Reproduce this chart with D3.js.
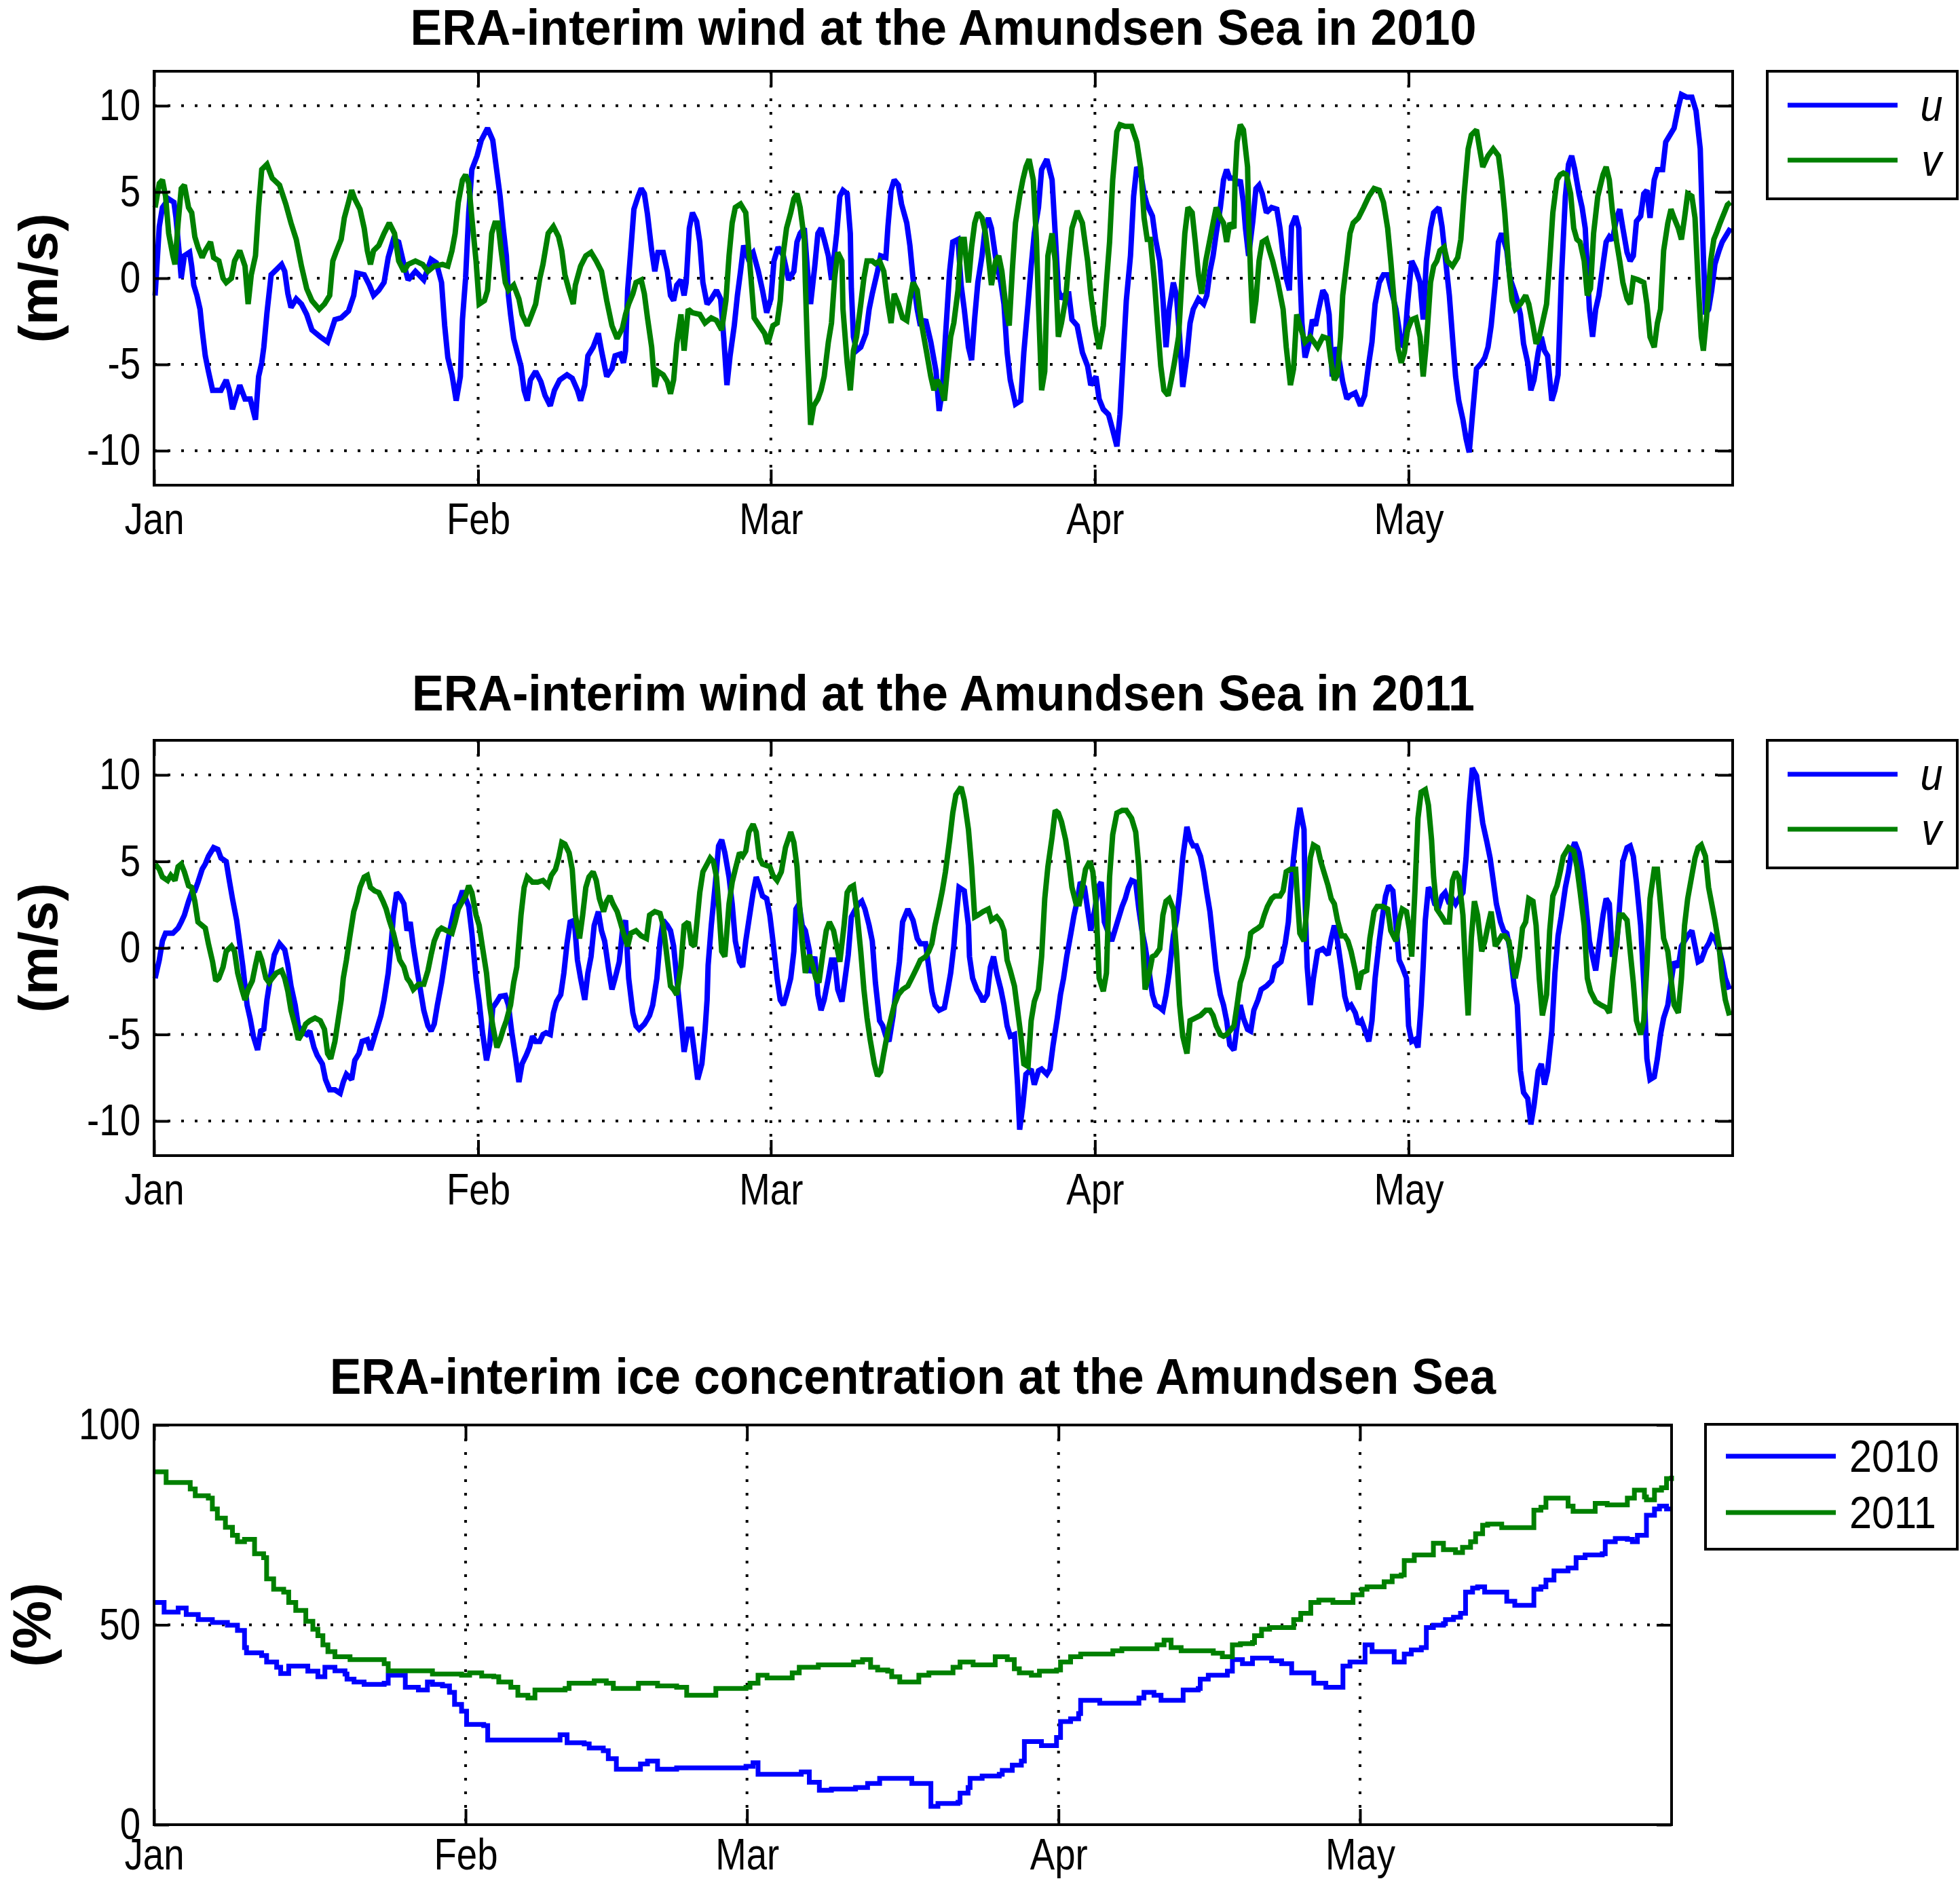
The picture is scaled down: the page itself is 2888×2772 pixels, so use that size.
<!DOCTYPE html>
<html>
<head>
<meta charset="utf-8">
<script src="https://cdn.jsdelivr.net/npm/d3@7"></script>
<style>
body { margin: 0; background: #fff; }
</style>
</head>
<body>
<div id="canvas"></div>
<script>
// month ticks (day of year, 0 = Jan 1) and their labels
const monthDays = [0, 31, 59, 90, 120];
const monthLabels = ["Jan", "Feb", "Mar", "Apr", "May"];
const windTicks = [-10, -5, 0, 5, 10];
const iceTicks = [0, 50, 100];
const windNames = ["u", "v"];
const iceNames = ["2010", "2011"];
const titles = [
  "ERA-interim wind at the Amundsen Sea in 2010",
  "ERA-interim wind at the Amundsen Sea in 2011",
  "ERA-interim ice concentration at the Amundsen Sea"
];

// [day, m/s]
const u2010 = [[0.1,-1],[0.5,3],[0.8,4.1],[1.4,4.6],[1.9,4.4],[2.1,3.5],[2.4,1.5],[2.6,0],[2.9,1.3],[3.4,1.5],[3.6,0.7],[3.8,-0.4],[4.1,-1],[4.4,-1.8],[4.6,-3],[4.9,-4.5],[5.2,-5.4],[5.6,-6.5],[6.4,-6.5],[6.9,-5.9],[7.2,-6.5],[7.5,-7.6],[8.2,-6.2],[8.7,-7],[9.2,-7],[9.7,-8.2],[10.0,-5.7],[10.3,-4.9],[10.5,-4],[10.8,-2],[11.2,0.2],[11.7,0.5],[12.2,0.8],[12.5,0.4],[12.8,-0.9],[13.1,-1.7],[13.6,-1.2],[14.1,-1.5],[14.6,-2.1],[15.1,-3],[15.9,-3.4],[16.6,-3.7],[17.3,-2.4],[17.9,-2.3],[18.6,-1.9],[19.1,-1],[19.4,0.3],[20.1,0.2],[20.6,-0.4],[21.0,-1],[21.5,-0.7],[22.0,-0.25],[22.4,1.2],[22.9,2.25],[23.4,2.1],[23.9,0.8],[24.3,-0.1],[25.0,0.4],[25.8,-0.1],[26.5,1.1],[27.0,0.9],[27.5,-0.25],[27.8,-2.75],[28.1,-4.6],[28.5,-5.6],[28.9,-7.1],[29.3,-5.7],[29.5,-2.4],[29.8,0],[30.1,3.8],[30.4,6.3],[30.9,7.1],[31.3,8],[31.9,8.7],[32.4,8],[32.7,6.6],[33.1,4.75],[33.4,2.9],[33.7,1.3],[33.9,-1],[34.1,-2.1],[34.4,-3.5],[34.7,-4.2],[35.1,-5.1],[35.4,-6.5],[35.7,-7.1],[36.0,-5.9],[36.5,-5.4],[37.0,-6],[37.4,-6.8],[37.9,-7.4],[38.3,-6.5],[38.8,-5.9],[39.5,-5.6],[40.0,-5.8],[40.5,-6.5],[40.8,-7.1],[41.2,-6.2],[41.5,-4.5],[42.0,-4],[42.5,-3.2],[42.8,-4.2],[43.3,-5.7],[43.8,-5.25],[44.1,-4.5],[44.6,-4.4],[44.9,-4.9],[45.1,-4.2],[45.3,-0.7],[45.6,1.6],[45.9,4],[46.3,4.75],[46.6,5.2],[46.9,4.9],[47.2,3.7],[47.6,1.6],[47.9,0.4],[48.2,1.5],[48.7,1.5],[49.1,0.4],[49.4,-1],[49.7,-1.3],[50.0,-0.4],[50.4,-0.1],[50.7,-1],
[50.9,-0.25],[51.2,2.9],[51.5,3.8],[51.9,3.3],[52.2,2.1],[52.5,-0.25],[52.9,-1.5],[53.3,-1.2],[53.8,-0.7],[54.2,-1.2],[54.5,-3.5],[54.8,-6.2],[55.1,-4.5],[55.5,-2.75],[55.8,-1],[56.1,0.4],[56.4,1.9],[56.8,1.2],[57.3,1.5],[57.8,0.4],[58.2,-0.7],[58.6,-2],[59.0,-1.2],[59.3,1],[59.7,1.8],[60.2,1.3],[60.7,-0.1],[61.2,0.4],[61.5,2.1],[61.8,2.6],[62.2,2.9],[62.5,0.5],[62.8,-1.5],[63.2,0.7],[63.5,2.6],[63.8,2.9],[64.1,2.25],[64.5,1.3],[64.8,-0.1],[65.3,2.6],[65.6,4.75],[65.9,5.1],[66.3,4.9],[66.6,2.6],[66.7,-0.6],[66.9,-3.4],[67.2,-4.2],[67.6,-4],[68.1,-3.2],[68.4,-1.8],[68.7,-0.9],[69.2,0.4],[69.5,1.3],[70.0,1.2],[70.2,3],[70.5,5.1],[70.8,5.7],[71.2,5.4],[71.5,4.3],[72.0,3.2],[72.3,1.9],[72.6,0],[73.0,-1.8],[73.3,-2.75],[73.8,-2.4],[74.3,-3.7],[74.8,-5.4],[75.1,-7.7],[75.4,-6.5],[75.7,-3.4],[76.1,0.4],[76.4,2.1],[76.9,2.25],[77.2,-0.4],[77.5,-1.8],[77.9,-4],[78.2,-4.75],[78.5,-2.3],[78.8,-0.25],[79.2,1.3],[79.5,2.9],[79.8,3.5],[80.1,2.9],[80.5,1.2],[81.0,-0.25],[81.3,-1.5],[81.6,-4.3],[81.9,-5.9],[82.4,-7.3],[82.9,-7.1],[83.2,-4.3],[83.6,-1.5],[83.9,0.7],[84.2,2.6],[84.6,4.1],[84.9,6.3],[85.4,6.9],[85.9,5.7],[86.2,2.6],[86.5,-0.7],[86.8,-1.2],[87.2,-0.9],[87.5,-0.9],[87.8,-2.4],[88.3,-2.75],[88.8,-4.3],[89.3,-5.1],[89.6,-6.2],[90.1,-5.7],[90.4,-7],[90.8,-7.6],[91.3,-7.9],[91.7,-8.8],[92.1,-9.75],[92.4,-7.9],[92.7,-4.6],[93.0,-1.3],[93.4,1.3],[93.7,4.75],[94.0,6.45],[94.4,6],[94.7,4.9],[95.0,4.25],[95.5,3.6],[95.8,2.25],[96.2,1],[96.5,-1.2],[96.8,-4],[97.1,-1.8],[97.5,-0.25],[97.8,-1],[98.1,-3.4],[98.4,-6.3],[98.8,-4.5],[99.1,-2.6],[99.4,-1.8],[99.9,-1.2],[100.4,-1.5],
[100.7,-1],[101.0,0.4],[101.3,1.3],[101.6,2.6],[102.0,4.1],[102.3,5.7],[102.6,6.3],[102.9,5.8],[103.3,5.8],[103.6,5.4],[103.9,5.7],[104.2,4.4],[104.4,2.9],[104.7,1.3],[105.1,3.3],[105.4,5.2],[105.7,5.4],[106.0,4.9],[106.4,3.8],[106.9,4.1],[107.4,4],[107.7,2.9],[108.0,1.3],[108.3,0],[108.6,-0.7],[108.8,3],[109.2,3.6],[109.5,2.9],[109.6,0.5],[109.8,-2.6],[110.1,-4.6],[110.5,-3.7],[110.8,-2.4],[111.1,-2.75],[111.4,-1.8],[111.8,-0.7],[112.1,-1],[112.4,-2.1],[112.7,-5.7],[113.1,-4],[113.4,-4.9],[113.7,-6],[114.1,-7],[114.4,-6.8],[114.9,-6.65],[115.4,-7.4],[115.8,-6.8],[116.2,-4.9],[116.5,-3.7],[116.8,-1.5],[117.2,-0.25],[117.6,0.2],[118.0,0.2],[118.3,-0.6],[118.8,-1.8],[119.3,-3.8],[119.6,-4],[119.9,-1.5],[120.3,1],[120.7,0.5],[121.1,-0.25],[121.4,-2.4],[121.7,1],[122.1,2.9],[122.4,3.8],[122.9,4.1],[123.2,3],[123.5,1.3],[123.9,-1],[124.2,-3.4],[124.5,-5.7],[124.8,-7.1],[125.2,-8.2],[125.5,-9.3],[125.8,-10.1],[126.1,-8],[126.5,-5.25],[127.0,-4.9],[127.3,-4.6],[127.6,-4],[127.9,-2.75],[128.3,-0.25],[128.6,2.1],[128.9,2.6],[129.4,1.6],[129.7,0],[130.1,-0.7],[130.4,-1.3],[130.7,-2.1],[131.0,-3.8],[131.4,-4.9],[131.7,-6.5],[132.0,-5.9],[132.4,-4.3],[132.7,-3.4],[133.0,-4.2],[133.3,-4.5],[133.7,-7.1],[134.0,-6.5],[134.3,-5.6],[134.6,-0.25],[135.0,4.75],[135.3,6.6],[135.6,7.1],[135.9,6.3],[136.3,4.9],[136.6,4.1],[136.9,2.9],[137.3,-1.8],[137.6,-3.4],[137.9,-1.8],[138.2,-1],[138.6,0.8],[138.9,2.1],[139.2,2.4],[139.5,2.2],[139.9,3.5],[140.2,4],[140.5,2.9],[140.9,1.5],[141.2,1],[141.5,1.3],[141.8,3.3],[142.2,3.6],[142.5,4.9],[142.8,5.1],[143.1,3.5],[143.5,5.7],[143.8,6.3],[144.3,6.3],[144.6,7.9],[144.9,8.2],[145.4,8.7],[145.8,9.9],[146.1,10.65],[146.6,10.5],[147.1,10.5],[147.5,9.7],[147.9,7.5],[148.2,1.3],[148.4,-2.1],[148.7,-1.8],[149.0,-0.7],[149.3,0.8],[149.7,1.6],[150.0,2.1],[150.5,2.6],[150.8,2.9]];

const v2010 = [[0.1,4.1],[0.5,5.5],[0.8,5.7],[1.1,4.75],[1.4,2.6],[1.8,1.3],[2.0,0.8],[2.3,3.2],[2.6,5.2],[2.9,5.4],[3.3,4.1],[3.6,3.8],[3.9,2.4],[4.2,1.8],[4.6,1.2],[4.9,1.6],[5.4,2.1],[5.7,1.2],[6.2,1],[6.6,0],[6.9,-0.25],[7.4,0],[7.7,1],[8.2,1.6],[8.7,0.7],[9.0,-1.5],[9.3,0.2],[9.7,1.3],[10.0,4.1],[10.3,6.3],[10.8,6.6],[11.3,5.8],[12.0,5.4],[12.6,4.3],[13.1,3.2],[13.6,2.25],[14.1,0.7],[14.6,-0.6],[15.1,-1.3],[15.8,-1.8],[16.3,-1.5],[16.8,-1],[17.1,1],[17.4,1.5],[17.9,2.25],[18.2,3.5],[18.6,4.4],[18.9,5.1],[19.2,4.6],[19.7,4],[20.1,2.9],[20.4,1.6],[20.7,0.8],[21.0,1.6],[21.5,1.9],[22.0,2.6],[22.5,3.2],[23.0,2.6],[23.4,1],[23.9,0.4],[24.3,0.8],[25.0,1],[25.7,0.8],[26.2,0.4],[26.8,0.7],[27.6,0.8],[28.1,0.7],[28.5,1.6],[28.8,2.6],[29.1,4.4],[29.5,5.7],[29.8,6],[30.1,5.5],[30.4,3.5],[30.8,1],[31.1,-1.5],[31.6,-1.3],[31.9,-0.7],[32.3,2.6],[32.6,3.2],[32.9,3.2],[33.2,1.6],[33.6,-0.25],[33.9,-0.7],[34.4,-0.4],[34.9,-1.2],[35.2,-2.1],[35.7,-2.75],[36.0,-2.3],[36.5,-1.5],[36.9,0],[37.2,0.8],[37.7,2.6],[38.2,3],[38.7,2.4],[39.0,1.6],[39.3,0.2],[39.7,-0.7],[40.1,-1.5],[40.3,-0.4],[40.8,0.7],[41.3,1.3],[41.8,1.5],[42.3,1],[42.8,0.4],[43.3,-1.3],[43.8,-2.75],[44.3,-3.5],[44.8,-2.9],[45.1,-2.1],[45.4,-1.5],[45.8,-0.9],[46.1,-0.25],[46.6,-0.1],[46.9,-0.9],[47.2,-2.3],[47.6,-4],[47.9,-6.3],[48.2,-5.4],[48.7,-5.6],[49.1,-6],[49.4,-6.7],[49.7,-5.9],[50.0,-3.8],[50.4,-2.1],[50.7,-4.2],
[51.1,-1.8],[51.5,-2],[52.2,-2.1],[52.7,-2.6],[53.3,-2.3],[53.8,-2.45],[54.3,-3],[54.7,-1.3],[55.0,1.3],[55.3,3.2],[55.6,4.1],[56.1,4.3],[56.6,3.8],[56.8,2.25],[57.1,0],[57.4,-2.3],[57.9,-2.75],[58.4,-3.2],[58.7,-3.8],[59.2,-2.75],[59.6,-2.6],[59.9,-1.3],[60.2,1.5],[60.5,2.9],[60.9,3.8],[61.2,4.6],[61.5,4.9],[61.8,4.1],[62.2,2.25],[62.3,-0.25],[62.5,-4.1],[62.8,-8.5],[63.1,-7.4],[63.5,-7],[63.8,-6.5],[64.1,-5.7],[64.5,-3.7],[64.8,-2.6],[65.1,0],[65.4,1.5],[65.8,1],[65.9,-1.8],[66.3,-4.9],[66.6,-6.5],[66.9,-4.2],[67.2,-3.4],[67.6,-1.5],[67.9,0],[68.2,1],[68.7,1],[69.0,0.85],[69.4,1],[69.8,0.4],[70.2,-1.5],[70.5,-2.6],[70.8,-0.9],[71.2,-1.5],[71.6,-2.3],[72.0,-2.45],[72.3,-1.2],[72.6,-0.25],[73.0,-0.7],[73.4,-2.6],[73.9,-4.3],[74.3,-5.7],[74.6,-6.5],[74.9,-5.9],[75.2,-6.2],[75.6,-7.1],[75.9,-5.2],[76.2,-3.4],[76.5,-2.6],[76.9,-0.7],[77.2,2.25],[77.5,2.25],[77.7,1],[77.9,-0.25],[78.2,1.8],[78.5,3.2],[78.8,3.8],[79.2,3.5],[79.5,2.7],[79.8,1.3],[80.1,-0.4],[80.5,1],[80.8,1.3],[81.1,0.4],[81.5,-1.8],[81.8,-2.75],[82.1,0.5],[82.4,3.2],[82.8,4.75],[83.1,5.7],[83.4,6.45],[83.7,6.9],[84.1,5.7],[84.4,2.25],[84.6,-1.5],[84.9,-6.5],[85.2,-5.4],[85.5,1.3],[85.9,2.6],[86.2,1],[86.5,-3.4],[86.8,-2.6],[87.2,-1.2],[87.5,1],[87.8,2.9],[88.3,3.9],[88.8,3.2],[89.3,1],[89.6,-0.9],[90.0,-2.75],[90.4,-4.1],[90.8,-2.75],[91.1,-0.25],[91.4,2.1],[91.7,5.7],[92.1,8.5],[92.4,8.9],[92.9,8.8],[93.5,8.8],[94.0,7.9],[94.4,6.3],[94.7,3.5],[95.0,2.25],[95.3,2.25],[95.7,-0.25],[96.0,-2.75],[96.3,-5.1],[96.6,-6.5],[97.0,-6.8],[97.3,-5.9],[97.6,-4.9],[98.0,-3.4],[98.3,-0.25],[98.6,2.6],[98.9,4.1],[99.3,3.8],[99.6,2.1],[99.9,0.2],[100.2,-0.9],[100.6,1],
[101.0,2.25],[101.3,3.2],[101.6,4.1],[102.0,3.5],[102.3,3.2],[102.6,2.1],[102.9,3.2],[103.3,2.9],[103.4,5.7],[103.6,7.9],[103.9,8.9],[104.2,8.6],[104.6,6.45],[104.7,3.5],[104.9,0],[105.1,-2.6],[105.4,-1.3],[105.7,1],[106.0,2.1],[106.4,2.25],[106.7,1.6],[107.0,1],[107.5,-0.25],[108.0,-1.8],[108.3,-4],[108.7,-6.2],[109.0,-5.25],[109.3,-2.1],[109.6,-2.75],[110.1,-3.7],[110.6,-3.4],[111.3,-4],[111.8,-3.4],[112.3,-3.5],[112.6,-4.9],[112.9,-5.9],[113.2,-5.6],[113.5,-3.4],[113.7,-1],[114.1,1],[114.4,2.6],[114.7,3.2],[115.2,3.5],[115.7,4.1],[116.2,4.75],[116.7,5.2],[117.2,5.1],[117.6,4.4],[118.0,2.9],[118.3,1],[118.6,-1.2],[119.0,-4.1],[119.3,-4.9],[119.6,-4.3],[119.9,-3],[120.3,-2.4],[120.7,-2.3],[121.1,-3.4],[121.4,-5.7],[121.7,-3.8],[122.1,-0.25],[122.4,0.7],[122.7,1],[123.0,1.6],[123.4,1.8],[123.7,1],[124.2,0.7],[124.7,1.2],[125.0,2.25],[125.3,4.75],[125.7,7.5],[126.0,8.3],[126.5,8.6],[126.8,7.5],[127.1,6.45],[127.6,7.1],[128.1,7.5],[128.6,7.1],[128.9,5.7],[129.2,3.8],[129.6,0.5],[129.9,-1.3],[130.2,-1.8],[130.7,-1.5],[131.2,-1],[131.5,-1.5],[131.9,-2.75],[132.2,-3.8],[132.5,-3.4],[132.8,-2.6],[133.2,-1.5],[133.5,1],[133.8,3.8],[134.2,5.7],[134.5,6],[134.8,6.1],[135.1,6],[135.5,4.9],[135.8,2.9],[136.1,2.25],[136.4,2.1],[136.8,1],[137.1,-1],[137.4,-0.6],[137.7,2.6],[138.1,4.75],[138.6,6],[138.9,6.45],[139.2,5.7],[139.5,3.9],[139.9,2.1],[140.2,1],[140.5,-0.25],[140.9,-1.2],[141.2,-1.5],[141.5,0],[142.0,-0.1],[142.5,-0.25],[142.8,-1.5],[143.1,-3.4],[143.5,-4],[143.8,-2.6],[144.1,-1.8],[144.4,1.6],[144.8,3.2],[145.1,4],[145.4,3.5],[145.8,2.9],[146.1,2.25],[146.4,3.5],[146.7,4.9],[147.1,4.75],[147.4,3.5],[147.7,-0.25],[148.0,-3.4],[148.2,-4.2],[148.5,-2.3],[148.9,1],[149.2,2.25],[149.5,2.7],[149.8,3.2],[150.2,3.8],[150.5,4.25],[150.8,4.4]];

const u2011 = [[0.1,-1.75],[0.5,-0.7],[0.8,0.4],[1.1,0.85],[1.8,0.85],[2.3,1.15],[2.6,1.5],[2.9,1.9],[3.3,2.7],[3.6,3.2],[3.9,3.3],[4.2,3.8],[4.6,4.55],[4.9,4.85],[5.2,5.3],[5.7,5.8],[6.1,5.7],[6.4,5.2],[6.9,5],[7.2,3.9],[7.5,2.85],[7.9,1.6],[8.2,0.25],[8.5,-1.1],[8.9,-3.3],[9.2,-4.1],[9.5,-5.1],[9.9,-5.9],[10.2,-4.8],[10.5,-4.7],[10.8,-3],[11.2,-1.45],[11.5,-0.4],[12.0,0.25],[12.5,-0.1],[12.8,-1],[13.1,-2.2],[13.5,-3.3],[13.8,-4.5],[14.1,-4.8],[14.6,-5],[14.9,-4.8],[15.3,-5.75],[15.6,-6.2],[16.1,-6.7],[16.4,-7.6],[16.8,-8.2],[17.3,-8.2],[17.8,-8.4],[18.1,-7.75],[18.4,-7.3],[18.9,-7.6],[19.2,-6.5],[19.6,-6.1],[19.9,-5.4],[20.4,-5.3],[20.7,-5.9],[21.0,-5.3],[21.4,-4.5],[21.7,-3.9],[22.0,-3],[22.4,-1.45],[22.7,0.4],[22.9,1.9],[23.2,3.2],[23.5,3],[23.9,2.55],[24.2,1],[24.5,1.5],[24.8,0.1],[25.2,-1.45],[25.5,-2.5],[25.8,-3.6],[26.2,-4.5],[26.5,-4.8],[26.8,-4.4],[27.1,-3.3],[27.5,-2],[27.8,-0.8],[28.1,0.4],[28.5,1.6],[28.8,2.4],[29.1,2.55],[29.5,3.3],[29.8,2.85],[30.1,2.4],[30.4,0.85],[30.8,-1.75],[31.1,-3.1],[31.4,-4.8],[31.8,-6.5],[32.1,-5.6],[32.4,-3.45],[32.8,-3.1],[33.1,-2.8],[33.6,-2.75],[33.9,-3.3],[34.2,-4.8],[34.6,-6.4],[34.9,-7.75],[35.2,-6.7],[35.6,-6.2],[35.9,-5.75],[36.2,-5.1],[36.5,-5.4],[36.9,-5.4],[37.2,-5],[37.5,-4.9],[37.9,-5],[38.2,-3.75],[38.5,-3.1],[38.9,-2.7],[39.2,-1.45],[39.5,0.25],[39.8,1.5],[40.2,1.6],[40.5,-0.7],[40.8,-1.75],[41.2,-3],[41.5,-1.45],[41.8,-0.5],[42.1,1.3],[42.5,2.1],[42.8,1],[43.1,0.4],[43.5,-1.3],[43.8,-2.4],[44.1,-1.75],[44.5,-0.8],[44.8,1],[45.1,1.6],[45.4,-1.75],[45.8,-3.75],[46.1,-4.5],[46.4,-4.7],[46.9,-4.4],[47.4,-3.9],[47.7,-3.3],[48.1,-1.75],[48.4,0.4],[48.7,1.6],[49.1,1.3],[49.4,1],[49.7,0.1],[50.0,-1.75],[50.4,-4.1],[50.7,-6],
[51.1,-4.7],[51.4,-4.7],[51.7,-6.1],[52.0,-7.6],[52.4,-6.7],[52.7,-4.8],[52.9,-3],[53.0,-1],[53.3,1.3],[53.7,3.8],[54.0,5.9],[54.3,6.25],[54.6,5.5],[55.0,4.1],[55.3,2.55],[55.6,0.4],[56.0,-0.8],[56.3,-1.1],[56.6,0.4],[56.9,1.6],[57.3,3.2],[57.6,4.1],[57.9,3.6],[58.2,3],[58.6,2.85],[58.9,1.9],[59.2,0.4],[59.6,-1.75],[59.9,-3],[60.2,-3.3],[60.5,-2.7],[60.9,-1.75],[61.2,-0.2],[61.4,2.25],[61.7,2.55],[62.0,1.3],[62.3,1],[62.7,-0.2],[62.8,-1.45],[63.2,-0.5],[63.5,-2.7],[63.8,-3.6],[64.1,-3],[64.5,-1.75],[64.8,-0.7],[65.1,-0.7],[65.4,-2.4],[65.8,-3.1],[66.1,-1.75],[66.4,-0.4],[66.7,1.8],[67.1,2.25],[67.4,2.55],[67.7,2.7],[68.0,2.25],[68.4,1.3],[68.7,0.4],[69.0,-2],[69.4,-4.2],[69.7,-4.5],[70.0,-5.1],[70.3,-5.4],[70.7,-3.9],[71.0,-2.2],[71.3,-0.8],[71.6,1.5],[72.1,2.25],[72.6,1.6],[73.0,0.55],[73.3,0.25],[73.8,0.25],[74.1,-1.1],[74.4,-2.5],[74.7,-3.3],[75.1,-3.6],[75.6,-3.45],[75.9,-2.5],[76.2,-1.45],[76.5,0.1],[76.7,1.6],[77.0,3.5],[77.5,3.3],[77.9,1.3],[78.0,-0.5],[78.3,-1.75],[78.7,-2.4],[79.0,-2.7],[79.3,-3.1],[79.7,-2.7],[80.0,-1.1],[80.3,-0.5],[80.6,-1.45],[81.0,-2.4],[81.3,-3.3],[81.6,-4.5],[81.9,-5.1],[82.3,-5],[82.6,-7.9],[82.8,-10.5],[83.1,-9.1],[83.4,-7.3],[83.9,-7],[84.2,-7.9],[84.6,-7.1],[84.9,-7],[85.4,-7.3],[85.7,-7],[86.0,-5.6],[86.4,-4.05],[86.7,-2.7],[87.0,-1.75],[87.3,-0.5],[87.7,0.85],[88.0,1.9],[88.3,2.7],[88.6,3.8],[89.0,3.5],[89.3,2.25],[89.6,1],[90.0,2.25],[90.3,3.5],[90.6,3.8],[90.9,1.5],[91.3,0.85],[91.6,0.4],[91.9,1],[92.2,1.6],[92.6,2.4],[92.9,2.85],[93.2,3.5],[93.5,3.9],[93.9,3.8],[94.2,2.25],[94.5,1],[94.8,0.1],[95.2,-1.45],[95.5,-2.7],[95.8,-3.3],[96.2,-3.45],[96.5,-3.6],[96.8,-2.7],[97.1,-1.45],[97.5,0.7],[97.8,1.6],[98.1,3.2],[98.4,5.2],[98.8,7],[99.1,6.25],[99.4,5.9],[99.7,5.9],[100.1,5.3],[100.4,4.4],[100.7,3.2],
[101.0,2.1],[101.3,0.4],[101.6,-1.3],[102.0,-2.7],[102.3,-3.3],[102.6,-4.2],[102.9,-5.6],[103.3,-5.9],[103.6,-4.5],[103.9,-3.3],[104.2,-4.05],[104.6,-4.7],[104.9,-4.8],[105.2,-3.6],[105.6,-3],[105.9,-2.4],[106.4,-2.2],[106.9,-1.9],[107.2,-1.1],[107.8,-0.8],[108.2,0.25],[108.5,1.5],[108.7,3.2],[109.0,5.2],[109.3,6.85],[109.6,8.1],[110.0,6.85],[110.1,2.85],[110.3,-1.1],[110.6,-3.3],[110.9,-1.75],[111.3,-0.2],[111.8,-0.05],[112.3,-0.4],[112.6,0.55],[112.9,1.3],[113.2,0.4],[113.6,-1.3],[113.9,-2.8],[114.2,-3.45],[114.5,-3.3],[114.9,-3.75],[115.2,-4.4],[115.5,-4.2],[115.8,-4.7],[116.2,-5.4],[116.5,-4.2],[116.8,-1.75],[117.2,0.4],[117.5,1.8],[117.8,3],[118.1,3.6],[118.5,3.3],[118.8,1.3],[119.1,-0.7],[119.4,-1.1],[119.8,-1.75],[120.0,-4.5],[120.3,-5.4],[120.6,-5.3],[120.9,-5.75],[121.2,-3.3],[121.4,-1],[121.6,1.6],[121.9,3.5],[122.2,3.2],[122.5,2.55],[122.9,2.4],[123.2,3],[123.5,3.2],[123.9,2.55],[124.2,2.85],[124.5,2.55],[124.8,2.85],[125.2,3.2],[125.5,5.2],[125.8,8.25],[126.1,10.4],[126.5,9.95],[126.8,8.55],[127.1,7.2],[127.5,6.1],[127.8,5.2],[128.1,3.9],[128.4,2.55],[128.8,1.5],[129.1,1],[129.4,0.85],[129.7,-0.05],[130.1,-2.2],[130.4,-3.3],[130.7,-7.1],[131.0,-8.35],[131.4,-8.7],[131.7,-10.2],[132.0,-9.1],[132.4,-7.1],[132.7,-6.7],[133.0,-7.9],[133.3,-7.1],[133.7,-4.8],[134.0,-1.45],[134.3,0.7],[134.6,1.8],[135.0,3.5],[135.3,4.4],[135.6,5.6],[135.9,6.1],[136.3,5.5],[136.6,4.4],[136.9,2.85],[137.3,0.4],[137.6,-0.5],[137.9,-1.3],[138.2,0.1],[138.6,1.9],[138.9,2.85],[139.2,2.55],[139.5,-0.5],[139.9,0.1],[140.2,2.55],[140.5,5],[140.9,5.8],[141.2,5.9],[141.5,5.3],[141.8,3.8],[142.2,1.3],[142.5,-2],[142.8,-6.4],[143.1,-7.6],[143.5,-7.45],[143.8,-6.4],[144.1,-5],[144.4,-4.05],[144.8,-3.3],[145.1,-2],[145.4,-0.8],[145.8,-1.1],[146.1,0.1],[146.4,0.4],[146.7,0.7],[147.1,1],[147.4,0.1],[147.7,-0.8],[148.0,-0.7],[148.4,-0.05],[148.7,0.25],[149.0,0.7],[149.3,0.55],[149.7,-0.05],[150.0,-0.8],[150.3,-1.75],[150.7,-2.4]];

const v2011 = [[0.1,4.85],[0.5,4.55],[0.8,4.1],[1.3,3.9],[1.6,4.2],[2.0,3.9],[2.3,4.7],[2.6,4.85],[2.9,4.4],[3.3,3.6],[3.6,3.5],[3.9,2.7],[4.2,1.5],[4.6,1.3],[4.9,1.15],[5.2,0.25],[5.6,-0.8],[5.9,-1.9],[6.2,-1.75],[6.6,-1.1],[6.9,-0.2],[7.4,0.1],[7.7,-0.2],[8.0,-1.45],[8.4,-2.4],[8.7,-3],[9.0,-2.4],[9.4,-1.9],[9.7,-1],[10.0,-0.2],[10.3,-0.7],[10.7,-1.75],[11.0,-2],[11.3,-1.75],[11.7,-1.45],[12.2,-1.3],[12.5,-1.75],[12.8,-2.5],[13.1,-3.6],[13.5,-4.5],[13.8,-5.3],[14.1,-5],[14.5,-4.4],[14.9,-4.2],[15.4,-4.05],[15.9,-4.2],[16.3,-4.7],[16.6,-6.1],[16.9,-6.4],[17.3,-5.4],[17.6,-4.2],[17.9,-3],[18.1,-1.75],[18.4,-0.7],[18.7,0.55],[19.1,2.1],[19.4,2.7],[19.7,3.5],[20.1,4.1],[20.4,4.2],[20.7,3.5],[21.1,3.3],[21.5,3.2],[21.9,2.7],[22.2,2.25],[22.5,1.6],[22.9,0.85],[23.2,0.1],[23.5,-0.7],[23.9,-1.1],[24.2,-1.75],[24.5,-2],[24.8,-2.4],[25.3,-2.1],[25.8,-2.1],[26.2,-1.3],[26.5,-0.4],[26.8,0.4],[27.2,1],[27.5,1.15],[28.0,1],[28.5,0.85],[28.8,1.5],[29.1,2.25],[29.5,2.7],[29.8,3],[30.1,3.6],[30.4,3.2],[30.8,1.9],[31.1,1.3],[31.4,0.1],[31.8,-1.45],[32.1,-3.3],[32.4,-4.5],[32.8,-5.75],[33.1,-5.3],[33.4,-4.7],[33.7,-4.2],[34.1,-3.3],[34.4,-2],[34.7,-1.1],[35.1,1.9],[35.4,3.5],[35.7,4.1],[36.2,3.8],[36.7,3.8],[37.2,3.9],[37.7,3.6],[38.0,4.2],[38.4,4.55],[38.7,5.2],[39.0,6.1],[39.3,6],[39.7,5.5],[40.0,4.55],[40.3,1.9],[40.7,0.55],[41.0,1.9],[41.3,3.5],[41.6,4.1],[42.0,4.4],[42.3,3.9],[42.6,2.85],[43.0,2.1],[43.3,2.7],[43.6,3],[43.9,2.55],[44.3,2.1],[44.6,1.5],[44.9,0.85],[45.3,0.1],[45.6,0.85],[46.1,1],[46.6,0.7],[47.1,0.55],[47.4,1.9],[47.9,2.1],[48.4,2],[48.7,1.3],[49.1,-0.7],[49.4,-2.2],[49.7,-2.4],[50.0,-2.7],[50.4,-1],[50.7,1.3],
[51.1,1.5],[51.4,0.25],[51.7,0.1],[51.9,1.3],[52.2,3.2],[52.5,4.4],[52.9,4.85],[53.2,5.2],[53.5,5],[53.8,4.1],[54.0,2.55],[54.3,-0.2],[54.6,-0.5],[55.0,2.55],[55.3,3.8],[55.6,4.55],[56.0,5.5],[56.3,5.3],[56.6,5.6],[56.9,6.7],[57.3,7.15],[57.6,6.7],[57.9,5.2],[58.2,4.85],[58.9,4.7],[59.2,4.2],[59.6,3.9],[60.0,4.4],[60.4,5.8],[60.9,6.7],[61.2,6.1],[61.5,4.7],[61.7,2.85],[62.0,0.4],[62.3,-1.45],[62.7,-0.4],[63.0,-1],[63.3,-1.75],[63.6,-2],[64.0,-0.2],[64.3,1],[64.6,1.5],[65.0,1],[65.3,0.1],[65.6,-0.8],[66.0,1.3],[66.3,3.2],[66.6,3.5],[66.9,3.6],[67.2,2.25],[67.6,-0.2],[67.9,-2.4],[68.2,-4.05],[68.5,-5.3],[68.9,-6.7],[69.2,-7.4],[69.5,-7.15],[69.8,-6.1],[70.2,-4.8],[70.5,-4.05],[70.8,-3.3],[71.2,-2.7],[71.6,-2.4],[72.1,-2.2],[72.6,-1.6],[73.0,-1.1],[73.3,-0.7],[73.8,-0.5],[74.1,-0.2],[74.4,0.25],[74.7,1.3],[75.1,2.4],[75.4,3.3],[75.7,4.4],[76.1,6.25],[76.4,7.8],[76.7,8.85],[77.2,9.3],[77.5,8.55],[77.9,6.85],[78.2,4.7],[78.5,1.8],[78.8,1.9],[79.3,2.1],[79.8,2.25],[80.1,1.6],[80.6,1.8],[81.0,1.5],[81.3,1],[81.6,-0.7],[81.9,-1.3],[82.3,-2.2],[82.6,-3.6],[82.9,-5],[83.2,-6.7],[83.6,-6.85],[83.9,-4.2],[84.2,-3.1],[84.6,-2.4],[84.9,-0.5],[85.2,2.85],[85.5,4.7],[85.9,6.4],[86.2,7.95],[86.5,7.8],[86.8,7.3],[87.2,6.25],[87.5,5],[87.8,3.5],[88.2,2.55],[88.5,2.55],[88.8,3.5],[89.1,4.55],[89.5,5],[89.8,4.4],[90.1,2.55],[90.4,-1.75],[90.8,-2.5],[91.1,-1.45],[91.4,4.1],[91.7,6.55],[92.1,7.8],[92.6,7.95],[93.0,7.95],[93.5,7.5],[93.9,6.7],[94.2,4.7],[94.5,1.3],[94.8,-2.4],[95.2,-1.45],[95.5,-0.5],[95.8,-0.4],[96.2,-0.05],[96.5,1.9],[96.8,2.7],[97.1,2.85],[97.5,2.25],[97.8,-0.2],[98.1,-3.3],[98.4,-5.1],[98.8,-6.1],[99.1,-4.2],[99.6,-4.05],[100.1,-3.9],[100.6,-3.6],
[101.0,-3.6],[101.3,-3.9],[101.6,-4.5],[102.0,-5],[102.3,-5.1],[102.6,-5],[102.9,-4.8],[103.3,-4.5],[103.6,-3.3],[103.9,-2],[104.2,-1.45],[104.6,-0.5],[104.9,0.85],[105.2,1],[105.6,1.15],[105.9,1.3],[106.2,1.9],[106.5,2.4],[106.9,2.85],[107.2,3],[107.7,3],[108.0,3.3],[108.3,4.4],[108.7,4.55],[109.2,4.55],[109.3,3.5],[109.6,0.85],[110.0,0.4],[110.3,2.55],[110.6,5.2],[110.9,5.95],[111.3,5.8],[111.6,5],[111.9,4.4],[112.3,3.6],[112.6,2.85],[112.9,2.55],[113.2,1.6],[113.6,0.7],[113.9,0.7],[114.2,0.4],[114.5,-0.2],[114.9,-1.3],[115.2,-2.4],[115.5,-1.45],[116.0,-1.3],[116.3,0.55],[116.7,2.1],[117.0,2.4],[117.5,2.4],[118.0,2.25],[118.3,1],[118.8,0.4],[119.1,1.6],[119.4,2.25],[119.8,2.1],[120.1,1],[120.3,-0.5],[120.6,3.2],[120.9,7.5],[121.2,9],[121.6,9.15],[121.9,8.25],[122.2,6.25],[122.4,4.1],[122.7,2.25],[123.2,1.8],[123.5,1.5],[123.9,1.5],[124.2,3.9],[124.5,4.4],[124.8,4.1],[125.2,1.9],[125.5,-1.75],[125.7,-3.9],[126.0,0.55],[126.3,2.7],[126.6,1.9],[127.0,-0.2],[127.3,0.4],[127.6,1.3],[127.9,2.1],[128.3,0.1],[128.6,0.4],[128.9,0.7],[129.2,0.7],[129.6,0.4],[129.9,-0.8],[130.2,-1.75],[130.6,-0.5],[130.9,1.15],[131.2,1.5],[131.5,2.85],[131.9,2.7],[132.2,1.3],[132.5,-1.75],[132.8,-3.9],[133.2,-2.7],[133.5,1],[133.8,3],[134.2,3.6],[134.5,4.4],[134.8,5.3],[135.3,5.8],[135.8,5.6],[136.1,4.7],[136.4,3.3],[136.8,1.3],[137.1,-1.75],[137.4,-2.5],[137.9,-3.1],[138.4,-3.3],[138.9,-3.45],[139.2,-3.75],[139.5,-1.75],[139.9,0.4],[140.2,1.9],[140.5,1.9],[140.9,1.6],[141.2,-0.2],[141.5,-2],[141.8,-4.2],[142.2,-5],[142.5,-4.2],[142.8,-1],[143.1,2.85],[143.5,4.55],[143.8,4.55],[144.1,2.55],[144.4,0.55],[144.8,-0.2],[145.1,-1.75],[145.4,-3.3],[145.8,-3.75],[146.1,-1.75],[146.4,1.3],[146.7,2.85],[147.1,4.2],[147.4,5.2],[147.7,5.8],[148.0,5.95],[148.4,5.3],[148.7,3.5],[149.0,2.55],[149.3,1.6],[149.7,0.1],[150.0,-1.75],[150.3,-3],[150.7,-3.9]];

// [day, %], step levels
const ice2010 = [[0,55.6],[1.0,53.2],[2.4,54.2],[3.2,52.6],[4.4,51.3],[5.8,50.6],[7.3,49.9],[8.3,48.6],[9.0,44.3],[9.2,43],[10.7,42.3],[11.2,40.7],[12.2,39.4],[12.6,37.8],[13.4,39.7],[15.3,38.4],[16.3,37],[17.0,39.4],[18.0,38.5],[19.0,37.7],[19.2,36.4],[19.9,35.7],[20.9,35.1],[22.9,35.4],[23.3,37.4],[25.0,34.4],[26.3,33.7],[27.2,35.7],[27.7,35.1],[28.7,34.7],[29.4,33.1],[29.9,30.1],[30.6,28.4],[31.1,25.1],[32.8,24.8],[33.2,21.2],[40.4,22.5],[41.1,20.5],[42.8,20.2],[43.3,19.2],[44.7,18.5],[45.2,16.5],[46.0,13.9],[48.4,15.2],[49.1,15.9],[50.1,13.9],[52.0,14.2],[58.9,14.6],[59.6,15.5],[60.1,12.6],[64.4,13.2],[65.2,10.6],[66.2,8.6],[67.4,8.9],[69.8,9.3],[71.0,10.3],[72.2,11.6],[75.4,10.3],[77.3,4.6],[78.0,5.3],[80.0,5.6],[80.2,7.9],[81.0,9.3],[81.2,11.6],[82.4,12.2],[84.1,12.6],[84.4,13.6],[85.4,14.9],[86.3,15.9],[86.6,20.8],[88.3,19.8],[89.8,21.8],[90.2,25.8],[91.2,26.5],[92.0,27.8],[92.2,31.1],[94.1,30.4],[98.0,31.7],[98.5,33.1],[99.5,32.4],[100.2,31.1],[102.4,33.7],[103.9,34.1],[104.1,36.4],[104.9,37.4],[106.8,38.4],[107.3,41.3],[108.3,40.3],[109.3,41.7],[111.2,41],[112.2,40.3],[113.2,38],[115.4,35.4],[116.6,34.4],[118.3,39.7],[119.0,40.7],[120.5,45],[121.2,43.3],[123.4,40.7],[124.4,42.7],[125.1,43.7],[126.1,44.3],[126.6,49.3],[127.3,49.9],[128.3,50.3],[128.5,51.3],[129.3,51.9],[130.0,52.9],[130.5,58.2],[131.2,59.2],[131.7,59.5],[132.4,58.2],[134.6,55.9],[135.4,54.9],[137.3,58.9],[138.0,59.5],[138.5,61.2],[139.3,63.5],[140.7,64.2],[141.5,66.8],[142.4,67.5],[144.1,67.8],[144.4,70.8],[145.4,71.6],[146.6,71.4],[147.1,70.8],[147.6,72.4],[148.5,77.4],[149.3,79],[149.8,79.7],[150.5,79],[151,79]];

const ice2011 = [[0,88.3],[1.2,85.6],[3.6,84],[4.1,82.3],[5.4,81.7],[5.8,79],[6.3,76.7],[7.1,74.4],[7.8,72.4],[8.3,70.8],[9.0,71.4],[10.0,67.8],[10.9,66.8],[11.2,61.5],[11.9,58.9],[12.9,58.2],[13.4,55.6],[14.1,53.6],[15.1,50.9],[15.8,48.9],[16.3,47.3],[16.8,45],[17.3,43.3],[18.0,42],[19.5,41.3],[22.9,40.3],[23.3,38.5],[27.7,37.7],[30.6,37.4],[31.4,38],[32.6,37.2],[33.8,37],[34.3,35.7],[35.5,34.4],[36.2,32.4],[37.2,31.7],[37.9,33.7],[40.9,34.1],[41.3,35.4],[43.8,36],[45.0,35.4],[45.7,34.1],[48.2,35.4],[50.1,34.7],[52.0,34.4],[53.0,32.4],[55.9,34.1],[58.9,34.4],[59.3,35.4],[60.1,37.4],[61.0,36.7],[63.5,38],[64.2,39.4],[66.1,40],[69.6,40.7],[70.5,41.3],[71.3,39.4],[72.0,38.7],[73.0,38.4],[73.4,37],[74.2,35.7],[76.1,37.4],[77.1,38],[79.5,39.4],[80.2,40.7],[81.5,40],[83.7,42],[84.9,41.3],[85.6,39],[86.1,38],[87.3,37.4],[88.1,38.4],[89.8,38.7],[90.2,40.7],[91.2,42],[92.2,42.7],[95.4,43.5],[96.3,44],[99.8,45],[100.5,46.2],[101.2,44.3],[102.2,43.5],[105.4,42.9],[106.3,42],[107.3,45],[108.1,45.3],[109.3,45.6],[109.5,47.3],[110.2,48.9],[111.0,49.3],[113.4,51.3],[114.1,52.9],[115.1,55.6],[115.9,56.2],[117.3,55.6],[119.3,57.5],[120.2,58.9],[120.7,59.5],[122.4,60.8],[123.2,62.2],[124.1,62.5],[124.4,66.1],[125.4,67.5],[127.3,70.4],[128.3,68.8],[129.5,68.1],[130.2,69.4],[131.0,70.8],[131.5,72.8],[132.2,74.9],[132.7,75.2],[134.1,74.3],[137.3,78.7],[138.0,79.4],[138.5,81.7],[140.7,79.7],[141.2,78.4],[143.4,80.4],[144.6,80],[146.6,81.7],[147.3,83.7],[148.3,82],[148.5,81.3],[149.3,83.7],[150.0,84.3],[150.5,86.6],[151,87.3]];

const width = 2888;
const height = 2772;
const BLUE = "#0000ff";
const GREEN = "#008000";
const plainFont = "'Liberation Sans', Arial, Helvetica, sans-serif";

const svg = d3.select("#canvas").append("svg")
  .attr("width", width)
  .attr("height", height)
  .style("background", "#fff");

// squeeze text horizontally, like the narrow Helvetica of the original
function narrow(sel, f) {
  sel.each(function () {
    const len = this.getComputedTextLength();
    if (len > 0) {
      d3.select(this)
        .attr("textLength", len * f)
        .attr("lengthAdjust", "spacingAndGlyphs");
    }
  });
}

const panels = [
  { box: {l: 227, r: 2553, t: 105, b: 715}, titleY: 66, titleW: 1571, title: titles[0],
    ylab: "(m/s)", ylx: 56, ydom: [-12, 12], yticks: windTicks, series: [u2010, v2010], names: windNames,
    step: false, lw: 8, xpad: 26,
    legend: {l: 2604, r: 2884, t: 105, b: 293, y: [155, 236], x1: 2634, x2: 2796, tx: 2846, italic: true, anchor: "middle"} },
  { box: {l: 227, r: 2553, t: 1091, b: 1703}, titleY: 1047, titleW: 1566, title: titles[1],
    ylab: "(m/s)", ylx: 56, ydom: [-12, 12], yticks: windTicks, series: [u2011, v2011], names: windNames,
    step: false, lw: 8, xpad: 26,
    legend: {l: 2604, r: 2884, t: 1091, b: 1279, y: [1141, 1222], x1: 2634, x2: 2796, tx: 2846, italic: true, anchor: "middle"} },
  { box: {l: 227, r: 2463, t: 2100, b: 2689}, titleY: 2054, titleW: 1718, title: titles[2],
    ylab: "(%)", ylx: 46, ydom: [0, 100], yticks: iceTicks, series: [ice2010, ice2011], names: iceNames,
    step: true, lw: 7, xpad: 20,
    legend: {l: 2513, r: 2884, t: 2099, b: 2283, y: [2146, 2229], x1: 2543, x2: 2705, tx: 2725, italic: false, anchor: "start"} }
];

panels.forEach(p => {
  const b = p.box;
  const x = d3.scaleLinear().domain([0, 151]).range([b.l, b.r]);
  const y = d3.scaleLinear().domain(p.ydom).range([b.b, b.t]);
  const g = svg.append("g");

  // title
  g.append("text")
    .attr("x", (b.l + b.r) / 2)
    .attr("y", p.titleY)
    .attr("text-anchor", "middle")
    .attr("font-family", plainFont)
    .attr("font-weight", "bold")
    .attr("font-size", 74)
    .attr("textLength", p.titleW)
    .attr("lengthAdjust", "spacingAndGlyphs")
    .text(p.title);

  // dotted grid
  const grid = g.append("g")
    .attr("stroke", "#000")
    .attr("stroke-width", 4)
    .attr("stroke-dasharray", "4 16");
  grid.selectAll(".vg").data(monthDays.filter(d => d > 0)).enter().append("line")
    .attr("x1", d => x(d)).attr("x2", d => x(d))
    .attr("y1", b.t).attr("y2", b.b);
  grid.selectAll(".hg").data(p.yticks.filter(d => d > p.ydom[0] && d < p.ydom[1])).enter().append("line")
    .attr("x1", b.l).attr("x2", b.r)
    .attr("y1", d => y(d)).attr("y2", d => y(d));

  // data lines
  const line = d3.line()
    .x(d => x(d[0]))
    .y(d => y(d[1]))
    .curve(p.step ? d3.curveStepAfter : d3.curveLinear);
  g.selectAll(".series").data(p.series).enter().append("path")
    .attr("fill", "none")
    .attr("stroke", (d, i) => i === 0 ? BLUE : GREEN)
    .attr("stroke-width", p.lw)
    .attr("stroke-linejoin", "miter")
    .attr("stroke-miterlimit", 2)
    .attr("d", line);

  // axes with inward ticks
  const styleAxis = sel => {
    sel.select(".domain").remove();
    sel.selectAll(".tick line").attr("stroke", "#000").attr("stroke-width", 4);
    sel.selectAll(".tick text")
      .attr("font-family", plainFont)
      .attr("font-size", 65)
      .attr("fill", "#000")
      .call(narrow, 0.84);
  };
  g.append("g")
    .attr("transform", `translate(0,${b.b})`)
    .call(d3.axisBottom(x).tickValues(monthDays).tickFormat((d, i) => monthLabels[i]).tickSize(-23).tickPadding(p.xpad))
    .call(styleAxis);
  g.append("g")
    .attr("transform", `translate(0,${b.t})`)
    .call(d3.axisTop(x).tickValues(monthDays).tickFormat("").tickSize(-23))
    .call(styleAxis);
  g.append("g")
    .attr("transform", `translate(${b.l},0)`)
    .call(d3.axisLeft(y).tickValues(p.yticks).tickFormat(d => d < 0 ? "-" + Math.abs(d) : d).tickSize(-22).tickPadding(20))
    .call(styleAxis);
  g.append("g")
    .attr("transform", `translate(${b.r},0)`)
    .call(d3.axisRight(y).tickValues(p.yticks).tickFormat("").tickSize(-22))
    .call(styleAxis);

  // axes box
  g.append("rect")
    .attr("x", b.l).attr("y", b.t)
    .attr("width", b.r - b.l).attr("height", b.b - b.t)
    .attr("fill", "none")
    .attr("stroke", "#000")
    .attr("stroke-width", 4);

  // y label
  g.append("text")
    .attr("transform", `translate(${p.ylx},${(b.t + b.b) / 2}) rotate(-90)`)
    .attr("text-anchor", "middle")
    .attr("dominant-baseline", "central")
    .attr("font-family", plainFont)
    .attr("font-weight", "bold")
    .attr("font-size", 80)
    .text(p.ylab);

  // legend
  const L = p.legend;
  const lg = g.append("g");
  lg.append("rect")
    .attr("x", L.l).attr("y", L.t)
    .attr("width", L.r - L.l).attr("height", L.b - L.t)
    .attr("fill", "#fff")
    .attr("stroke", "#000")
    .attr("stroke-width", 4);
  p.names.forEach((name, i) => {
    lg.append("line")
      .attr("x1", L.x1).attr("x2", L.x2)
      .attr("y1", L.y[i]).attr("y2", L.y[i])
      .attr("stroke", i === 0 ? BLUE : GREEN)
      .attr("stroke-width", 7);
    lg.append("text")
      .attr("x", L.tx).attr("y", L.y[i])
      .attr("text-anchor", L.anchor)
      .attr("dominant-baseline", "central")
      .attr("font-family", plainFont)
      .attr("font-style", L.italic ? "italic" : "normal")
      .attr("font-size", 66)
      .text(name)
      .call(narrow, 0.9);
  });
});
</script>
</body>
</html>
